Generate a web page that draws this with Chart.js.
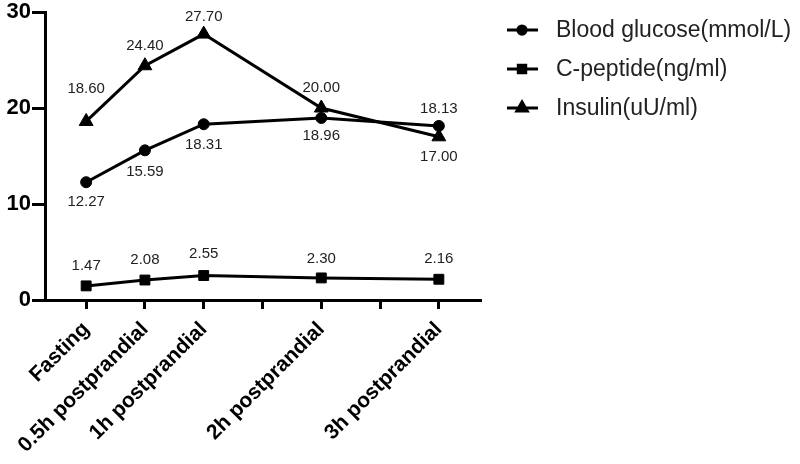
<!DOCTYPE html>
<html>
<head>
<meta charset="utf-8">
<script src="https://cdn.jsdelivr.net/npm/chart.js@4.4.1/dist/chart.umd.min.js"></script>
<style>
  html, body { margin: 0; padding: 0; background: #fff; }
  #wrap { width: 800px; height: 464px; }
</style>
</head>
<body>
<div id="wrap"><canvas id="myChart"></canvas></div>
<script>
// time points in hours, and the labels shown under them
const hours = [0, 0.5, 1, 2, 3];
const tickLabels = {0: 'Fasting', 0.5: '0.5h postprandial', 1: '1h postprandial', 2: '2h postprandial', 3: '3h postprandial'};

const glucose = [12.27, 15.59, 18.31, 18.96, 18.13];
const cpeptide = [1.47, 2.08, 2.55, 2.30, 2.16];
const insulin = [18.60, 24.40, 27.70, 20.00, 17.00];

// label offsets in px (negative = above the point)
const glucoseLabelOff = [20, 22, 21, 18, -17];
const cpeptideLabelOff = [-20, -20, -22, -19, -20];
const insulinLabelOff = [-33, -20, -17, -20, 20];

const FONT = 'Liberation Sans, Arial, Helvetica, sans-serif';

function pts(vals) {
  return hours.map((h, i) => ({x: h, y: vals[i]}));
}

const valueLabels = {
  id: 'valueLabels',
  afterDatasetsDraw(chart) {
    const c = chart.ctx;
    c.save();
    c.font = '15px ' + FONT;
    c.fillStyle = '#222';
    c.textAlign = 'center';
    c.textBaseline = 'middle';
    chart.data.datasets.forEach((ds, di) => {
      chart.getDatasetMeta(di).data.forEach((p, i) => {
        c.fillText(ds.data[i].y.toFixed(2), p.x, p.y + ds.labelOff[i]);
      });
    });
    c.restore();
  }
};

const sideLegend = {
  id: 'sideLegend',
  afterDraw(chart) {
    const c = chart.ctx;
    c.save();
    c.font = '23px ' + FONT;
    c.textBaseline = 'middle';
    chart.data.datasets.forEach((ds, i) => {
      const y = 30 + i * 39;
      c.strokeStyle = '#000';
      c.lineWidth = 3;
      c.beginPath();
      c.moveTo(507, y);
      c.lineTo(538, y);
      c.stroke();
      c.fillStyle = '#000';
      Chart.helpers.drawPoint(c, {pointStyle: ds.pointStyle, radius: ds.pointRadius * 0.75, borderWidth: 1}, 522, y);
      c.fillStyle = '#222';
      c.fillText(ds.label, 556, y + 1);
    });
    c.restore();
  }
};

const lineStyle = {
  borderColor: '#000',
  backgroundColor: '#000',
  pointBackgroundColor: '#000',
  pointBorderColor: '#000',
  borderWidth: 3,
  pointBorderWidth: 1,
  tension: 0
};

new Chart('myChart', {
  type: 'line',
  data: {
    datasets: [{
      ...lineStyle,
      label: 'Blood glucose(mmol/L)',
      data: pts(glucose),
      labelOff: glucoseLabelOff,
      pointStyle: 'circle',
      pointRadius: 5.5
    }, {
      ...lineStyle,
      label: 'C-peptide(ng/ml)',
      data: pts(cpeptide),
      labelOff: cpeptideLabelOff,
      pointStyle: 'rect',
      pointRadius: 7
    }, {
      ...lineStyle,
      label: 'Insulin(uU/ml)',
      data: pts(insulin),
      labelOff: insulinLabelOff,
      pointStyle: 'triangle',
      pointRadius: 8
    }]
  },
  options: {
    responsive: true,
    maintainAspectRatio: false,
    animation: false,
    layout: {
      padding: {top: 0, right: 320, bottom: 0, left: 0}
    },
    plugins: {
      colors: {enabled: false},
      legend: {display: false},
      tooltip: {enabled: false}
    },
    scales: {
      x: {
        type: 'linear',
        min: -0.35,
        max: 3.35,
        afterBuildTicks: (axis) => {
          axis.ticks = [0, 0.5, 1, 1.5, 2, 2.5, 3].map(v => ({value: v}));
        },
        afterFit: (axis) => { axis.height = 164; },
        ticks: {
          callback: (v) => tickLabels[v] || '',
          minRotation: 45,
          maxRotation: 45,
          autoSkip: false,
          color: '#000',
          padding: 8,
          font: {family: FONT, size: 21, weight: 'bold'}
        },
        grid: {
          drawOnChartArea: false,
          drawTicks: true,
          tickLength: 9,
          color: '#000',
          lineWidth: 3
        },
        border: {color: '#000', width: 3}
      },
      y: {
        min: 0,
        max: 30,
        afterFit: (axis) => { axis.width = 45; },
        ticks: {
          stepSize: 10,
          color: '#000',
          padding: 1,
          font: {family: FONT, size: 22, weight: 'bold', lineHeight: 1}
        },
        grid: {
          drawOnChartArea: false,
          drawTicks: true,
          tickLength: 13,
          color: '#000',
          lineWidth: 3
        },
        border: {color: '#000', width: 3}
      }
    }
  },
  plugins: [valueLabels, sideLegend]
});
</script>
</body>
</html>
